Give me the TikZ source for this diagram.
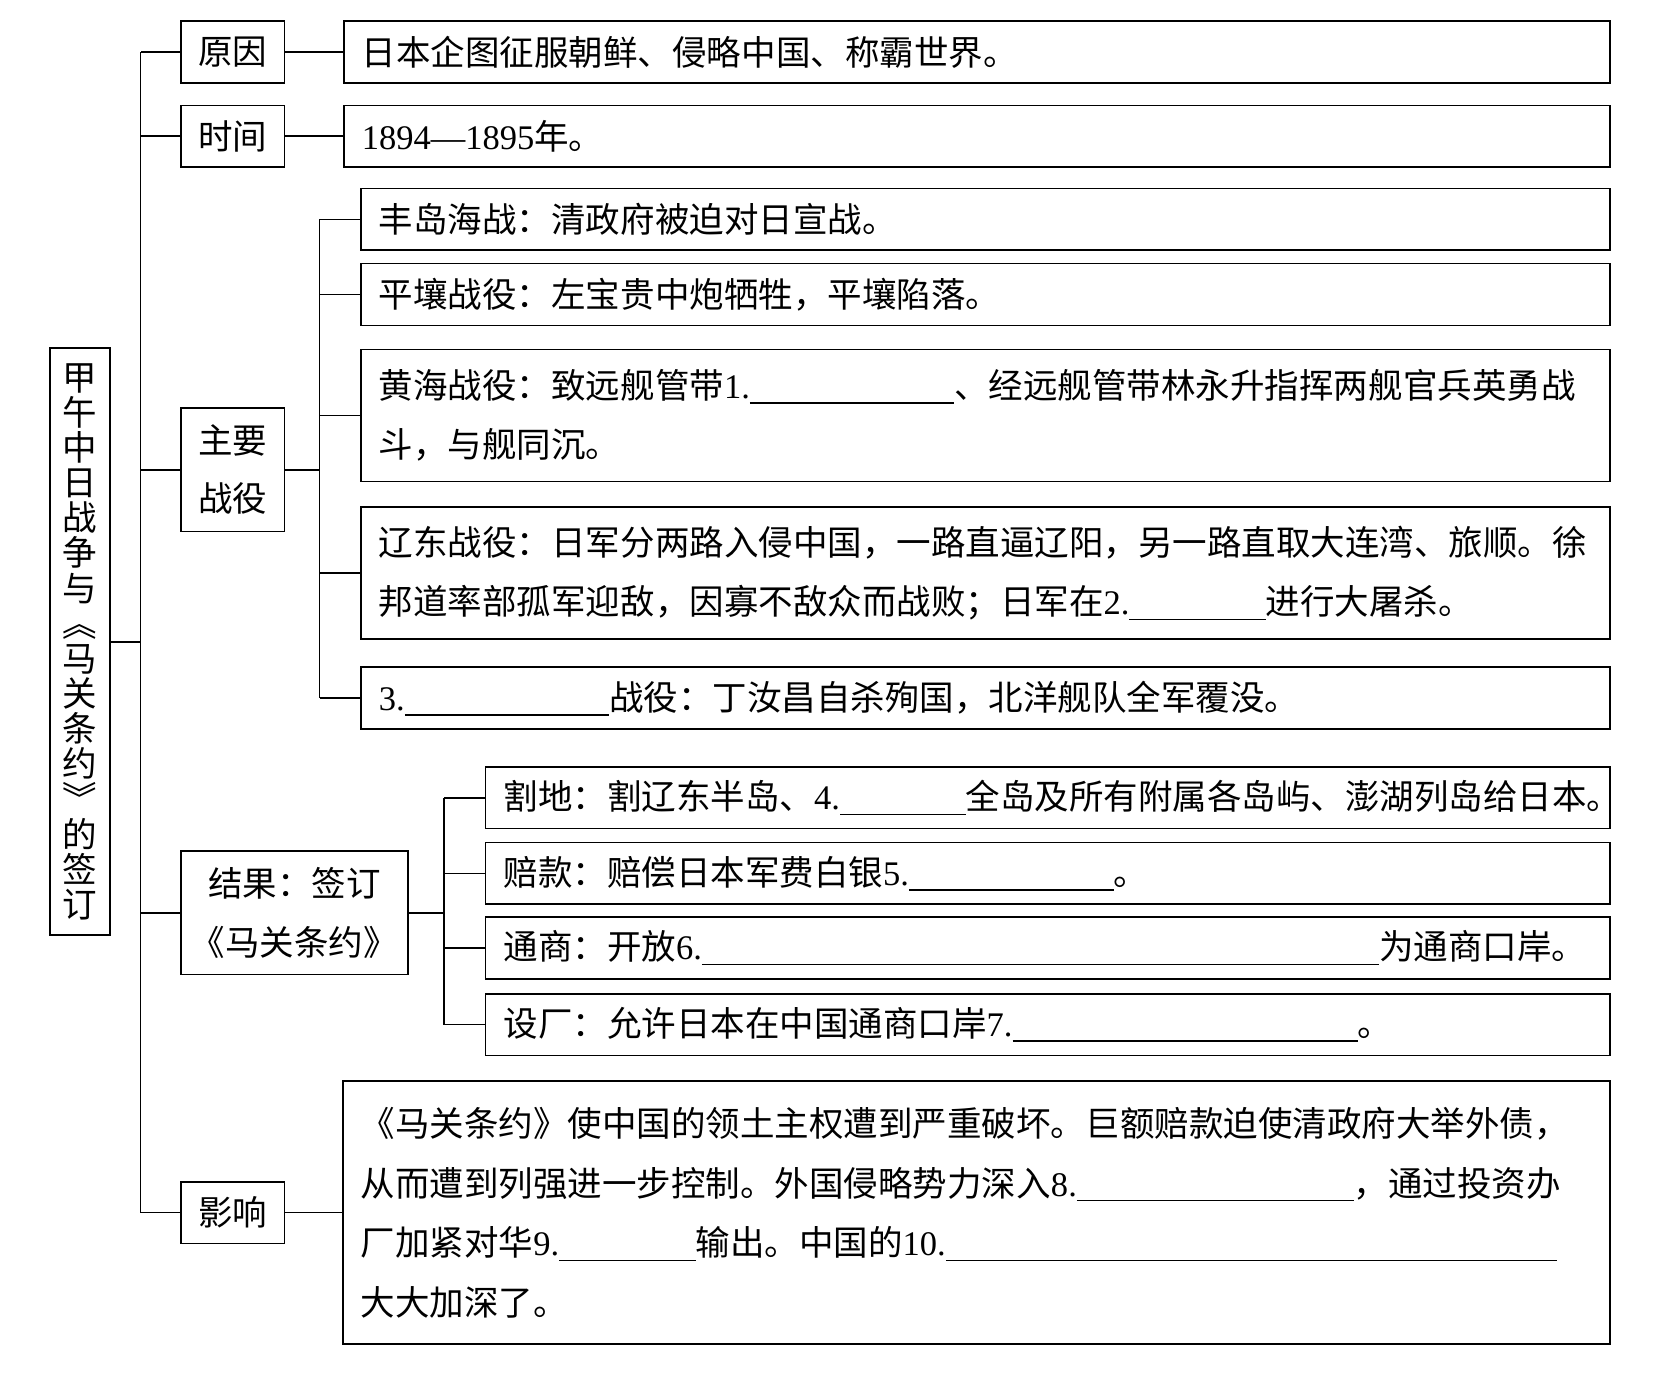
\documentclass[tikz,border=0pt]{standalone}
\usepackage{fontspec}
\setmainfont{Noto Sans CJK SC}
\newfontfamily\westfont{Liberation Serif}
\newcommand\nm[1]{{\westfont #1}}
\newcommand\blank[1]{\rule[-2.5pt]{#1}{0.7pt}}

\tikzset{
	wire/.style={line width=0.8pt},
	framebox/.style={draw, line width=0.8pt, inner sep=0pt, minimum height=29pt},
	tagbox/.style={framebox, minimum width=48.5pt, align=center},
	itembox/.style={framebox, anchor=west, inner xsep=8.5pt, text width=#1, align=left},
}

\begin{document}
\begin{tikzpicture}[x=0.5pt, y=-0.5pt, every node/.style={font=\fontsize{16.2pt}{28pt}\selectfont}]
	\useasboundingbox (0,0) rectangle (1568,1298);

	\node[framebox, minimum width=28pt, minimum height=275.5pt, align=center,
		font=\fontsize{16.2pt}{16.5pt}\selectfont] (root) at (75,602.5)
		{甲\\午\\中\\日\\战\\争\\与\\︽\\马\\关\\条\\约\\︾\\的\\签\\订};

	\node[tagbox] (yuanyin) at (218.5,49) {原因};
	\node[tagbox] (shijian) at (218.5,128) {时间};
	\node[tagbox, minimum height=58pt, font=\fontsize{16.2pt}{27pt}\selectfont] (zhuyao) at (218.5,441) {主要\\战役};
	\node[tagbox, minimum width=106.5pt, minimum height=58pt] (jieguo) at (276.5,857) {结果：签订\\《马关条约》};
	\node[tagbox] (yingxiang) at (218.5,1138.5) {影响};

	\node[itembox=577.5pt] (reason) at (322,49) {日本企图征服朝鲜、侵略中国、称霸世界。};
	\node[itembox=577.5pt] (time) at (322,128) {\nm{1894—1895}年。};

	\node[itembox=569.5pt] (fengdao) at (338,206) {丰岛海战：清政府被迫对日宣战。};
	\node[itembox=569.5pt] (pingrang) at (338,276.5) {平壤战役：左宝贵中炮牺牲，平壤陷落。};
	\node[itembox=569.5pt, minimum height=62pt] (huanghai) at (338,390)
		{黄海战役：致远舰管带\nm{1.}\blank{96pt}、经远舰管带林永升指挥两舰官兵英勇战\\斗，与舰同沉。};
	\node[itembox=569.5pt, minimum height=62pt] (liaodong) at (338,538)
		{辽东战役：日军分两路入侵中国，一路直逼辽阳，另一路直取大连湾、旅顺。徐\\邦道率部孤军迎敌，因寡不敌众而战败；日军在\nm{2.}\blank{64pt}进行大屠杀。};
	\node[itembox=569.5pt] (weihai) at (338,655.5) {\nm{3.}\blank{96pt}战役：丁汝昌自杀殉国，北洋舰队全军覆没。};

	\node[itembox=511pt] (gedi) at (455,749) {割地：割辽东半岛、\nm{4.}\blank{59pt}全岛及所有附属各岛屿、澎湖列岛给日本。};
	\node[itembox=511pt] (peikuan) at (455,820) {赔款：赔偿日本军费白银\nm{5.}\blank{96pt}。};
	\node[itembox=511pt] (tongshang) at (455,890) {通商：开放\nm{6.}\blank{318pt}为通商口岸。};
	\node[itembox=511pt] (shechang) at (455,962) {设厂：允许日本在中国通商口岸\nm{7.}\blank{162pt}。};

	\node[itembox=578pt, minimum height=123.5pt] (effect) at (321,1138.5)
		{《马关条约》使中国的领土主权遭到严重破坏。巨额赔款迫使清政府大举外债，\\
		从而遭到列强进一步控制。外国侵略势力深入\nm{8.}\blank{130pt}，通过投资办\\
		厂加紧对华\nm{9.}\blank{64pt}输出。中国的\nm{10.}\blank{287pt}\\
		大大加深了。};

	\coordinate (trunk) at (132,0);
	\coordinate (battlebus) at (300,0);
	\coordinate (treatybus) at (417,0);

	\draw[wire] (root.east) -- (root.east -| trunk);
	\draw[wire] (trunk |- yuanyin.west) -- (trunk |- yingxiang.west);
	\foreach \n in {yuanyin,shijian,zhuyao,jieguo,yingxiang} {
		\draw[wire] (\n.west) -- (\n.west -| trunk);
	}

	\draw[wire] (yuanyin.east) -- (reason.west);
	\draw[wire] (shijian.east) -- (time.west);
	\draw[wire] (yingxiang.east) -- (effect.west);

	\draw[wire] (zhuyao.east) -- (zhuyao.east -| battlebus);
	\draw[wire] (battlebus |- fengdao.west) -- (battlebus |- weihai.west);
	\foreach \n in {fengdao,pingrang,huanghai,liaodong,weihai} {
		\draw[wire] (\n.west) -- (\n.west -| battlebus);
	}

	\draw[wire] (jieguo.east) -- (jieguo.east -| treatybus);
	\draw[wire] (treatybus |- gedi.west) -- (treatybus |- shechang.west);
	\foreach \n in {gedi,peikuan,tongshang,shechang} {
		\draw[wire] (\n.west) -- (\n.west -| treatybus);
	}
\end{tikzpicture}
\end{document}
